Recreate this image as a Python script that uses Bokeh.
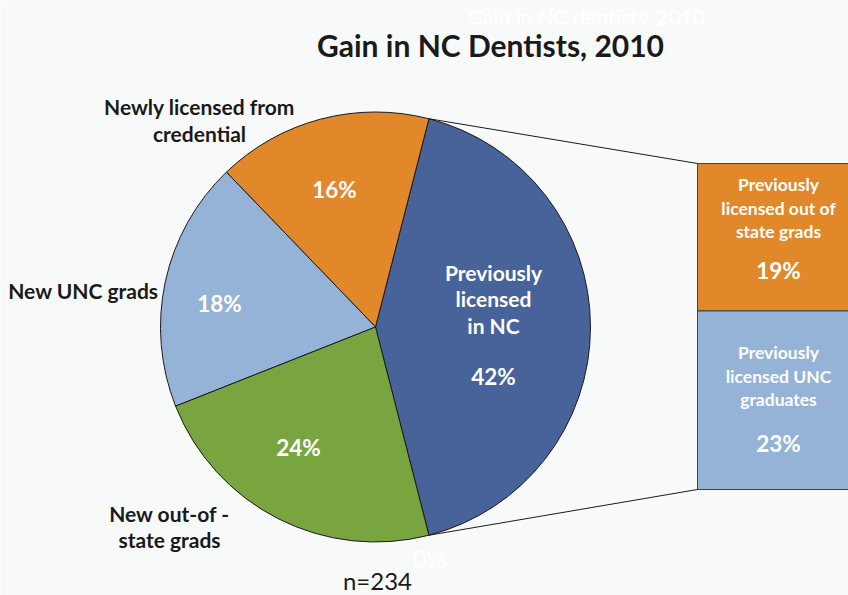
import math
from bokeh.plotting import figure
from bokeh.models import Range1d
from bokeh.core.properties import value
from bokeh.embed import file_html
from bokeh.resources import INLINE

# ---- data ----
pie_labels = ["Previously licensed in NC", "Newly licensed from credential",
              "New UNC grads", "New out-of-state grads"]
# slice shares as drawn in the picture, and the percentage labels printed on them
pie_shares = [42.0, 16.2, 18.8, 23.0]
pie_pct_labels = ["42%", "16%", "18%", "24%"]
pie_colors = ["#47639A", "#E0882A", "#95B3D7", "#79A540"]

bar_labels = ["Previously licensed out of state grads", "Previously licensed UNC graduates"]
bar_values = [19, 23]
bar_pct_labels = ["19%", "23%"]
bar_colors = ["#E0882A", "#95B3D7"]

title_text = "Gain in NC Dentists, 2010"
hidden_title = "Gain in NC dentists, 2010"
n_text = "n=234"

BG = "#F8FAF9"
W, H = 848, 595

def Y(img_y):
    return H - img_y

p = figure(width=W, height=H, output_backend="svg", toolbar_location=None,
           x_range=Range1d(0, W), y_range=Range1d(0, H),
           min_border=0, background_fill_color=BG, border_fill_color=BG)
p.axis.visible = False
p.grid.visible = False
p.outline_line_color = None

# ---- pie ----
cx, cy, r = 375, Y(326.5), 215
total = sum(pie_shares)
start = -pie_shares[0] / total * 180.0
starts, ends = [], []
a = start
for v in pie_shares:
    starts.append(math.radians(a))
    a += v / total * 360.0
    ends.append(math.radians(a))
p.wedge(x=[cx] * len(pie_shares), y=[cy] * len(pie_shares), radius=r,
        start_angle=starts, end_angle=ends, direction="anticlock",
        fill_color=pie_colors, line_color="#1a1a1a", line_width=1)

# ---- bar (pie-of-bar) ----
bar_left, bar_right = 697, 900
bar_top = Y(163)
bar_total_h = 326.0
scale = bar_total_h / sum(bar_values)
tops, bottoms = [], []
t = bar_top
for v in bar_values:
    tops.append(t)
    t -= v * scale
    bottoms.append(t)
p.quad(left=[bar_left] * 2, right=[bar_right] * 2, top=tops, bottom=bottoms,
       fill_color=bar_colors, line_color="#404040", line_width=1)

# connector lines
a0, a1 = starts[0], ends[0]
p.segment(x0=[cx + r * math.cos(a1), cx + r * math.cos(a0)],
          y0=[cy + r * math.sin(a1), cy + r * math.sin(a0)],
          x1=[bar_left, bar_left], y1=[bar_top, bar_top - bar_total_h],
          line_color="#1a1a1a", line_width=1)

def txt(x, y, s, size, color="#1a1a1a", bold=True, align="center"):
    p.text(x=[x], y=[Y(y)], text=[s], text_font=value("Lato"),
           text_font_size=f"{size}px", text_font_style="bold" if bold else "normal",
           text_color=color, text_align=align, text_baseline="middle")

# titles
txt(586, 16, hidden_title, 21, color="#FFFFFF", bold=False)
txt(490, 44, title_text, 30)

# outside labels
txt(199, 106, "Newly licensed from", 21)
txt(199, 133, "credential", 21)
txt(158, 290, "New UNC grads", 21, align="right")
txt(169, 513, "New out-of -", 21)
txt(169, 539, "state grads", 21)

# slice labels
txt(334, 189, pie_pct_labels[1], 22.5, color="#FFFFFF")
txt(219, 303, pie_pct_labels[2], 22.5, color="#FFFFFF")
txt(298, 447, pie_pct_labels[3], 22.5, color="#FFFFFF")
txt(493, 272, "Previously", 21, color="#FFFFFF")
txt(493, 298, "licensed", 21, color="#FFFFFF")
txt(493, 325, "in NC", 21, color="#FFFFFF")
txt(493, 376, pie_pct_labels[0], 22.5, color="#FFFFFF")

# bar labels
txt(778, 184, "Previously", 17.5, color="#FFFFFF")
txt(778, 208, "licensed out of", 17.5, color="#FFFFFF")
txt(778, 231, "state grads", 17.5, color="#FFFFFF")
txt(778, 270, bar_pct_labels[0], 22.5, color="#FFFFFF")
txt(778, 352, "Previously", 17.5, color="#FFFFFF")
txt(778, 376, "licensed UNC", 17.5, color="#FFFFFF")
txt(778, 399, "graduates", 17.5, color="#FFFFFF")
txt(778, 443, bar_pct_labels[1], 22.5, color="#FFFFFF")

txt(429, 557, "0%", 25, color="#FFFFFF", bold=False)
txt(377, 580, n_text, 24, bold=False)

html = file_html(p, INLINE)
html = html.replace("<body>", f'<body style="background:{BG};">', 1)
open("out.html", "w").write(html)
